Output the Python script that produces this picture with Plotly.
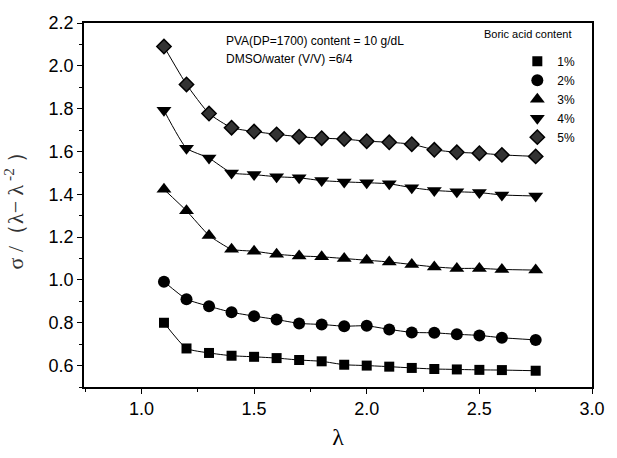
import plotly.graph_objects as go

lam = [1.1, 1.2, 1.3, 1.4, 1.5, 1.6, 1.7, 1.8, 1.9, 2.0, 2.1, 2.2, 2.3, 2.4, 2.5, 2.6, 2.75]

s1 = [0.800, 0.680, 0.659, 0.646, 0.641, 0.635, 0.626, 0.620, 0.604, 0.600, 0.595, 0.589, 0.584, 0.582, 0.580, 0.579, 0.576]
s2 = [0.992, 0.910, 0.877, 0.849, 0.831, 0.815, 0.797, 0.792, 0.784, 0.786, 0.769, 0.755, 0.753, 0.746, 0.741, 0.730, 0.720]
s3 = [1.423, 1.323, 1.208, 1.143, 1.134, 1.120, 1.112, 1.108, 1.100, 1.092, 1.084, 1.072, 1.061, 1.054, 1.054, 1.049, 1.046]
s4 = [1.792, 1.615, 1.569, 1.500, 1.492, 1.482, 1.477, 1.464, 1.458, 1.454, 1.449, 1.431, 1.418, 1.412, 1.408, 1.397, 1.392]
s5 = [2.090, 1.913, 1.777, 1.711, 1.693, 1.680, 1.669, 1.662, 1.658, 1.648, 1.643, 1.634, 1.608, 1.596, 1.592, 1.584, 1.577]

names = ["1%", "2%", "3%", "4%", "5%"]
series = [s1, s2, s3, s4, s5]
symbols = ["square", "circle", "triangle-up", "triangle-down", "diamond"]
sizes = [10, 12, 13, 13, 11]
fills = ["#000000", "#000000", "#000000", "#000000", "#333333"]

fig = go.Figure()
# fitted curves (no legend)
for ys in series:
    fig.add_trace(go.Scatter(
        x=lam, y=ys, mode="lines", showlegend=False, hoverinfo="skip",
        line=dict(color="black", width=1, shape="spline", smoothing=0.5),
    ))
# data markers (legend shows markers only)
for name, ys, sym, sz, fc in zip(names, series, symbols, sizes, fills):
    fig.add_trace(go.Scatter(
        x=lam, y=ys, name=name, mode="markers",
        marker=dict(symbol=sym, size=sz, color=fc,
                    line=dict(color="black", width=1.5 if sym == "diamond" else 0)),
    ))

fig.update_layout(
    width=617, height=458,
    margin=dict(l=84, r=19, t=23, b=66),
    paper_bgcolor="white", plot_bgcolor="white",
    font=dict(family="Liberation Sans, Arial", color="black"),
    showlegend=True,
    legend=dict(x=0.853, y=0.935, xanchor="left", yanchor="top",
                bgcolor="rgba(0,0,0,0)", borderwidth=0,
                font=dict(family="Liberation Sans", size=12),
                itemwidth=30, tracegroupgap=0),
    xaxis=dict(range=[0.745, 3.0], tickvals=[1.0, 1.5, 2.0, 2.5, 3.0],
               ticktext=["1.0", "1.5", "2.0", "2.5", "3.0"],
               ticks="outside", ticklen=5, tickwidth=1.2, tickcolor="black",
               minor=dict(dtick=0.25, tick0=0, ticks="outside", ticklen=3, tickcolor="black"),
               showline=True, linecolor="black", linewidth=1.5, mirror=True,
               showgrid=False, zeroline=False,
               tickfont=dict(size=18),
               title=dict(text="λ", font=dict(family="Liberation Serif", size=24), standoff=10)),
    yaxis=dict(range=[0.5, 2.2], tickvals=[0.6, 0.8, 1.0, 1.2, 1.4, 1.6, 1.8, 2.0, 2.2],
               ticktext=["0.6", "0.8", "1.0", "1.2", "1.4", "1.6", "1.8", "2.0", "2.2"],
               ticks="outside", ticklen=5, tickwidth=1.2, tickcolor="black",
               minor=dict(dtick=0.1, tick0=0, ticks="outside", ticklen=3, tickcolor="black"),
               showline=True, linecolor="black", linewidth=1.5, mirror=True,
               showgrid=False, zeroline=False,
               tickfont=dict(size=18),
               title=dict(text="σ /（λ− λ<sup> -2</sup> ）",
                          font=dict(family="Liberation Serif", size=22, color="#333"), standoff=20)),
)


def px_x(p):
    return (p - 84) / 514.0


def px_y(p):
    return 1 - (p - 23) / 369.0


fig.add_annotation(xref="paper", yref="paper", x=px_x(226), y=px_y(41), xanchor="left", yanchor="middle",
                   text="PVA(DP=1700) content = 10 g/dL", showarrow=False,
                   font=dict(family="Liberation Sans", size=12))
fig.add_annotation(xref="paper", yref="paper", x=px_x(226), y=px_y(59), xanchor="left", yanchor="middle",
                   text="DMSO/water (V/V) =6/4", showarrow=False,
                   font=dict(family="Liberation Sans", size=12))
fig.add_annotation(xref="paper", yref="paper", x=px_x(487), y=px_y(34), xanchor="left", yanchor="middle",
                   text="Boric acid content", showarrow=False,
                   font=dict(family="Liberation Sans", size=11))

fig.write_html("out.html")
